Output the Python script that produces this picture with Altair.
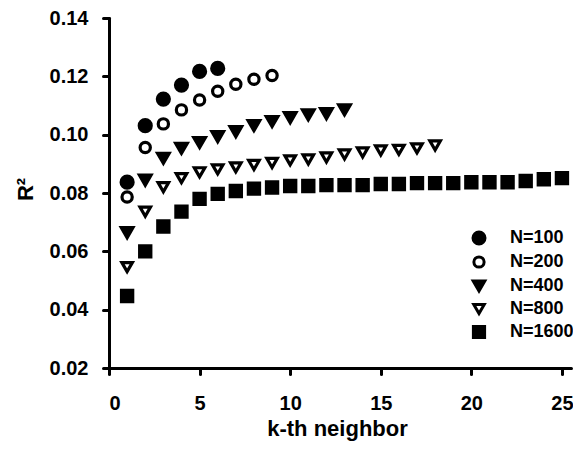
import altair as alt
import pandas as pd

series = ["N=100", "N=200", "N=400", "N=800", "N=1600"]
r100 = [0.0837, 0.1031, 0.1122, 0.1170, 0.1217, 0.1227]
r200 = [0.0786, 0.0956, 0.1037, 0.1085, 0.1119, 0.1149, 0.1173, 0.1190, 0.1203]
r400 = [0.0664, 0.0844, 0.0919, 0.0953, 0.0973, 0.0993, 0.1010, 0.1031, 0.1045,
        0.1058, 0.1068, 0.1072, 0.1085]
r800 = [0.0546, 0.0736, 0.0820, 0.0851, 0.0871, 0.0881, 0.0888, 0.0896, 0.0903,
        0.0912, 0.0915, 0.0922, 0.0932, 0.0939, 0.0946, 0.0948, 0.0953, 0.0963]
r1600 = [0.0447, 0.0600, 0.0685, 0.0736, 0.0780, 0.0797, 0.0807, 0.0815, 0.0819,
         0.0824, 0.0824, 0.0827, 0.0827, 0.0827, 0.0831, 0.0831, 0.0834, 0.0834,
         0.0834, 0.0837, 0.0837, 0.0837, 0.0841, 0.0847, 0.0851]
x_ticks = [0, 5, 10, 15, 20, 25]
y_ticks = [0.02, 0.04, 0.06, 0.08, 0.10, 0.12, 0.14]

shapes = ["circle", "circle", "triangle-down", "triangle-down", "square"]
fills = ["black", "white", "black", "white", "black"]
strokes = ["black"] * 5
sizes = [144, 105, 135, 110, 125]

rows = []
for name, vals in zip(series, [r100, r200, r400, r800, r1600]):
    for i, v in enumerate(vals):
        rows.append({"k": i + 1, "r2": v, "series": name})
df = pd.DataFrame(rows)

FONT = "Liberation Sans"

legend = alt.Legend(
    title=None, orient="none", legendX=361, legendY=211,
    labelFont=FONT, labelFontSize=18, labelFontWeight="bold", labelColor="black",
    labelOffset=22, rowPadding=0, padding=0,
    symbolStrokeColor="black", symbolStrokeWidth=3,
)

chart = alt.Chart(df).mark_point(
    filled=False, stroke="black", strokeWidth=3.2, opacity=1, fillOpacity=1,
    strokeOpacity=1,
).encode(
    x=alt.X("k:Q", scale=alt.Scale(domain=[0, 25.5], nice=False, zero=False),
            axis=alt.Axis(values=x_ticks, title="k-th neighbor", format="d",
                          labelPadding=19, titleX=228, titleY=67,
                          titleBaseline="alphabetic", titleAnchor="middle")),
    y=alt.Y("r2:Q", scale=alt.Scale(domain=[0.02, 0.14], nice=False, zero=False),
            axis=alt.Axis(values=y_ticks, title="R²", format=".2f",
                          labelPadding=15, titleX=-84, titleY=171,
                          titleAngle=-90, titleBaseline="middle", titleAlign="center")),
    shape=alt.Shape("series:N", scale=alt.Scale(domain=series, range=shapes), legend=legend),
    fill=alt.Fill("series:N", scale=alt.Scale(domain=series, range=fills), legend=legend),
    stroke=alt.Stroke("series:N", scale=alt.Scale(domain=series, range=strokes), legend=legend),
    size=alt.Size("series:N", scale=alt.Scale(type="ordinal", domain=series, range=sizes),
                  legend=legend),
).properties(
    width=462, height=350,
    autosize=alt.AutoSizeParams(type="none"),
    padding={"left": 101, "top": 10, "right": 2, "bottom": 75},
).configure_view(
    stroke=None
).configure_axis(
    grid=False, domainColor="black", domainWidth=3, domainCap="round",
    tickColor="black", tickWidth=3, tickSize=6, tickCap="round",
    labelFont=FONT, labelFontSize=20, labelFontWeight="bold", labelColor="black",
    titleFont=FONT, titleFontSize=22, titleFontWeight="bold", titleColor="black",
)

chart.save("out.html", embed_options={"renderer": "svg", "actions": False})
